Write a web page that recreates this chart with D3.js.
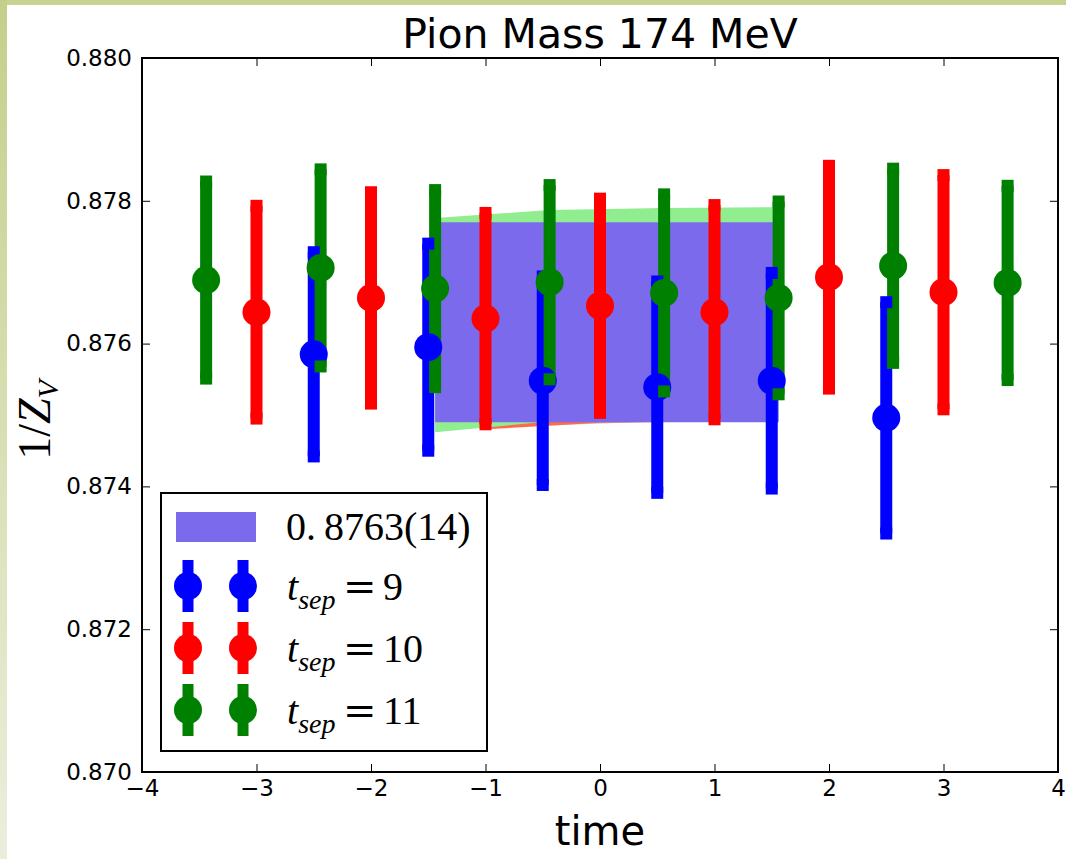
<!DOCTYPE html>
<html>
<head>
<meta charset="utf-8">
<script src="https://cdn.jsdelivr.net/npm/d3@7"></script>
<style>
  html, body { margin: 0; padding: 0; background: #ffffff; }
  svg { display: block; }
</style>
</head>
<body>
<svg id="chart" width="1066" height="859"></svg>
<script>
// ---- data ----------------------------------------------------------------
const xTicks = [-4, -3, -2, -1, 0, 1, 2, 3, 4];
const yTicks = [0.870, 0.872, 0.874, 0.876, 0.878, 0.880];

// t_sep = 9
const t9  = [-2.5, -1.5, -0.5, 0.5, 1.5, 2.5];
const v9  = [0.87585, 0.87595, 0.87548, 0.87539, 0.87548, 0.87496];
const e9  = [0.00143, 0.00145, 0.00146, 0.00148, 0.00151, 0.00162];

// t_sep = 10
const t10 = [-3, -2, -1, 0, 1, 2, 3];
const v10 = [0.87644, 0.87664, 0.87635, 0.87653, 0.87644, 0.87693, 0.87672];
const e10 = [0.00149, 0.00148, 0.00148, 0.00150, 0.00150, 0.00156, 0.00164];

// t_sep = 11
const t11 = [-3.44, -2.44, -1.44, -0.44, 0.56, 1.56, 2.56, 3.56];
const v11 = [0.87689, 0.87706, 0.87677, 0.87686, 0.87671, 0.87664, 0.87709, 0.87685];
const e11 = [0.00138, 0.00138, 0.00138, 0.00136, 0.00138, 0.00135, 0.00136, 0.00136];

// fit bands for each separation (time, upper, lower)
const fit9T   = [-0.5, 0.5];
const fit9Hi  = [0.87770, 0.87775];
const fit9Lo  = [0.87485, 0.87491];
const fit10T  = [-1, 0, 1];
const fit10Hi = [0.87772, 0.87778, 0.87779];
const fit10Lo = [0.87480, 0.87489, 0.87491];
const fit11T  = [-1.44, -0.44, 0.56, 1.56];
const fit11Hi = [0.87776, 0.87787, 0.87790, 0.87791];
const fit11Lo = [0.87476, 0.87491, 0.87492, 0.87492];

// combined constant fit: 0.8763(14)
const fitValue = 0.8763;
const fitError = 0.0014;
const fitRange = [-1.44, 1.56];

// ---- layout --------------------------------------------------------------
const svg = d3.select("#chart");
const W = 1066, H = 859;
const plot = { left: 142, right: 1058, top: 58, bottom: 772 };

const x = d3.scaleLinear().domain([-4, 4]).range([plot.left, plot.right]);
const y = d3.scaleLinear().domain([0.870, 0.880]).range([plot.bottom, plot.top]);

// slide frame (olive strip along the top and left edges)
const defs = svg.append("defs");
const grad = defs.append("linearGradient").attr("id", "edge")
  .attr("x1", 0).attr("y1", 0).attr("x2", 0).attr("y2", 1);
grad.append("stop").attr("offset", 0).attr("stop-color", "#c5cf8b");
grad.append("stop").attr("offset", 1).attr("stop-color", "#eceedc");
svg.append("rect").attr("x", 0).attr("y", 0).attr("width", W).attr("height", 5)
  .attr("fill", "#c9d290");
svg.append("rect").attr("x", 0).attr("y", 0).attr("width", 7).attr("height", H)
  .attr("fill", "url(#edge)");

defs.append("clipPath").attr("id", "plotclip").append("rect")
  .attr("x", plot.left).attr("y", plot.top)
  .attr("width", plot.right - plot.left).attr("height", plot.bottom - plot.top);

const g = svg.append("g").attr("clip-path", "url(#plotclip)");

// ---- bands ---------------------------------------------------------------
function band(ts, hi, lo, color) {
  const pts = ts.map((t, i) => ({ t, hi: hi[i], lo: lo[i] }));
  const area = d3.area().x(d => x(d.t)).y0(d => y(d.lo)).y1(d => y(d.hi));
  g.append("path").datum(pts).attr("d", area).attr("fill", color);
}
band(fit9T, fit9Hi, fit9Lo, "#add8e6");
band(fit10T, fit10Hi, fit10Lo, "#ff6a4d");
band(fit11T, fit11Hi, fit11Lo, "#90ee90");
band(fitRange, fitRange.map(() => fitValue + fitError),
     fitRange.map(() => fitValue - fitError), "#7b6bec");

// ---- error bars ----------------------------------------------------------
const series = [
  { t: t9,  v: v9,  e: e9,  color: "#0000ff", label: "9"  },
  { t: t10, v: v10, e: e10, color: "#ff0000", label: "10" },
  { t: t11, v: v11, e: e11, color: "#008000", label: "11" }
];
const barW = 12, capH = 12, markR = 14;

function rows(s) { return s.t.map((t, i) => ({ t, v: s.v[i], e: s.e[i] })); }

// vertical bars for every series first
series.forEach(s => {
  g.append("g").selectAll("rect").data(rows(s)).join("rect")
    .attr("x", d => x(d.t) - barW / 2)
    .attr("y", d => y(d.v + d.e))
    .attr("width", barW)
    .attr("height", d => y(d.v - d.e) - y(d.v + d.e))
    .attr("fill", s.color);
});
// then markers and caps, series by series
series.forEach(s => {
  const gs = g.append("g");
  gs.selectAll("circle").data(rows(s)).join("circle")
    .attr("cx", d => x(d.t)).attr("cy", d => y(d.v)).attr("r", markR)
    .attr("fill", s.color);
  const caps = rows(s).flatMap(d => [d.v + d.e, d.v - d.e].map(c => ({ t: d.t, c })));
  gs.selectAll("rect").data(caps).join("rect")
    .attr("x", d => x(d.t) - barW / 2)
    .attr("y", d => y(d.c) - capH / 2)
    .attr("width", barW).attr("height", capH)
    .attr("fill", s.color);
});

// ---- axes ----------------------------------------------------------------
const tickFont = "'DejaVu Sans', sans-serif";
function styleAxis(sel, showLabels) {
  sel.select(".domain").remove();
  sel.selectAll(".tick line").attr("stroke", "#000").attr("stroke-width", 1);
  sel.selectAll(".tick text")
    .attr("font-family", tickFont).attr("font-size", 23).attr("fill", "#000");
  if (!showLabels) sel.selectAll(".tick text").remove();
}
svg.append("g").attr("transform", `translate(0,${plot.bottom})`)
  .call(d3.axisBottom(x).tickValues(xTicks).tickSizeInner(-8).tickSizeOuter(0)
        .tickPadding(8).tickFormat(d3.format("d")))
  .call(s => styleAxis(s, true));
svg.append("g").attr("transform", `translate(0,${plot.top})`)
  .call(d3.axisTop(x).tickValues(xTicks).tickSizeInner(-8).tickSizeOuter(0))
  .call(s => styleAxis(s, false));
svg.append("g").attr("transform", `translate(${plot.left},0)`)
  .call(d3.axisLeft(y).tickValues(yTicks).tickSizeInner(-8).tickSizeOuter(0)
        .tickPadding(10).tickFormat(d3.format(".3f")))
  .call(s => styleAxis(s, true));
svg.append("g").attr("transform", `translate(${plot.right},0)`)
  .call(d3.axisRight(y).tickValues(yTicks).tickSizeInner(-8).tickSizeOuter(0))
  .call(s => styleAxis(s, false));

svg.append("rect")
  .attr("x", plot.left).attr("y", plot.top)
  .attr("width", plot.right - plot.left).attr("height", plot.bottom - plot.top)
  .attr("fill", "none").attr("stroke", "#000").attr("stroke-width", 2);

// ---- titles --------------------------------------------------------------
svg.append("text").attr("x", (plot.left + plot.right) / 2).attr("y", 48)
  .attr("text-anchor", "middle").attr("font-family", tickFont)
  .attr("font-size", 41).attr("fill", "#000").text("Pion Mass 174 MeV");

svg.append("text").attr("x", (plot.left + plot.right) / 2).attr("y", 845)
  .attr("text-anchor", "middle").attr("font-family", tickFont)
  .attr("font-size", 40).attr("fill", "#000").text("time");

const serif = "'Liberation Serif', 'DejaVu Serif', serif";
const yl = svg.append("text")
  .attr("transform", "translate(50,420) rotate(-90)")
  .attr("text-anchor", "middle").attr("font-family", serif)
  .attr("font-size", 46).attr("fill", "#000");
yl.append("tspan").text("1/");
yl.append("tspan").attr("font-style", "italic").text("Z");
yl.append("tspan").attr("font-style", "italic").attr("font-size", 30).attr("dy", 8).text("V");

// ---- legend --------------------------------------------------------------
const lg = svg.append("g");
lg.append("rect").attr("x", 161).attr("y", 493).attr("width", 326).attr("height", 258)
  .attr("fill", "#fff").attr("stroke", "#000").attr("stroke-width", 2);

lg.append("rect").attr("x", 176).attr("y", 512).attr("width", 80).attr("height", 30)
  .attr("fill", "#7b6bec");
const fitLabel = lg.append("text").attr("x", 286).attr("y", 540)
  .attr("font-family", serif).attr("font-size", 40).attr("fill", "#000");
fitLabel.append("tspan").text("0.");
fitLabel.append("tspan").attr("dx", 8)
  .text(`${String(fitValue).slice(2)}(${Math.round(fitError * 10000)})`);

const legendRows = [586, 648, 710];
series.forEach((s, i) => {
  const cy = legendRows[i];
  [188, 243].forEach(cx => {
    lg.append("rect").attr("x", cx - 5.5).attr("y", cy - 26)
      .attr("width", 11).attr("height", 52).attr("fill", s.color);
    lg.append("circle").attr("cx", cx).attr("cy", cy).attr("r", markR)
      .attr("fill", s.color);
  });
  const tx = lg.append("text").attr("x", 287).attr("y", cy + 14)
    .attr("font-family", serif).attr("font-size", 40).attr("fill", "#000");
  tx.append("tspan").attr("font-style", "italic").text("t");
  tx.append("tspan").attr("font-style", "italic").attr("font-size", 28)
    .attr("dy", 9).text("sep");
  tx.append("tspan").attr("x", 343).attr("dy", -9)
    .attr("font-family", "'DejaVu Serif', serif").text("=");
  tx.append("tspan").attr("x", 383).text(s.label);
});
</script>
</body>
</html>
